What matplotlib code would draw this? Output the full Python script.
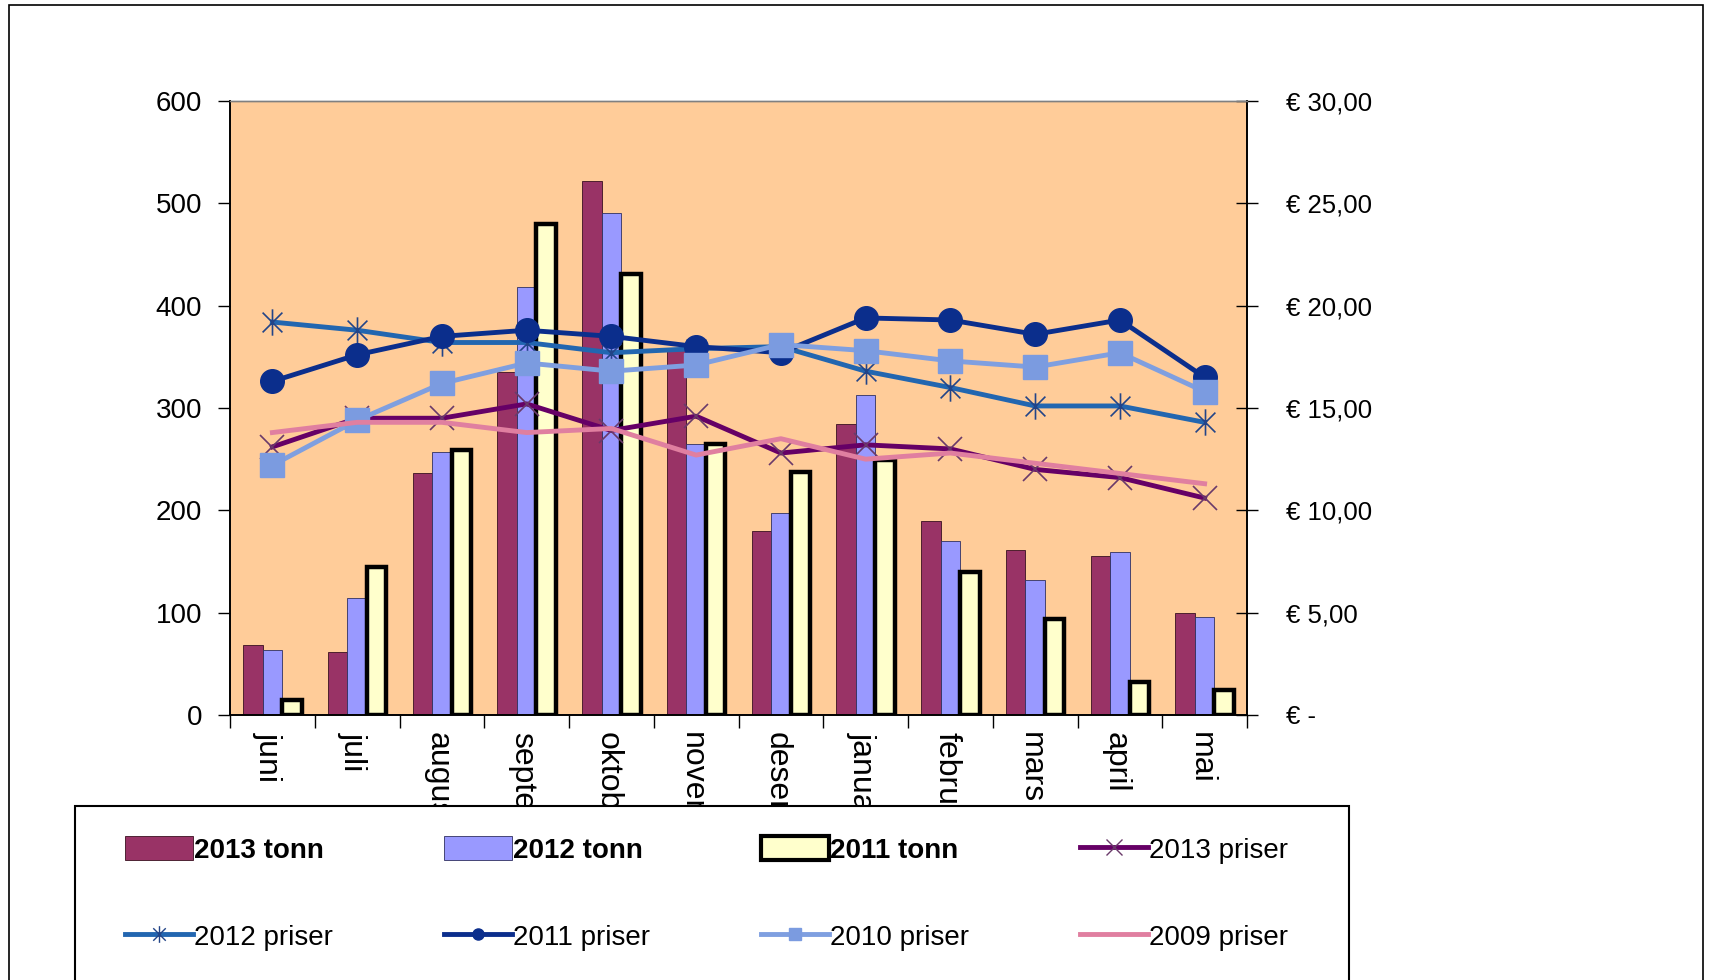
import numpy as np
import matplotlib
matplotlib.use("Agg")
import matplotlib.pyplot as plt
from matplotlib.patches import Patch, Rectangle
from matplotlib.lines import Line2D
from matplotlib.path import Path
from matplotlib.transforms import Bbox, TransformedBbox

plt.rcParams['font.family'] = 'Liberation Sans'

# data
months = ["juni", "juli", "august", "september", "oktober", "november",
          "desember", "januar", "februar", "mars", "april", "mai"]
tonn_2013 = [68, 62, 236, 335, 522, 357, 180, 284, 190, 161, 155, 100]
tonn_2012 = [64, 114, 257, 418, 491, 265, 197, 313, 170, 132, 159, 96]
tonn_2011 = [15, 145, 259, 480, 431, 265, 237, 249, 140, 94, 32, 24]

pris_2013 = [13.1, 14.5, 14.5, 15.2, 13.9, 14.6, 12.8, 13.2, 13.0, 12.0, 11.6, 10.6]
pris_2012 = [19.2, 18.8, 18.2, 18.2, 17.7, 17.9, 18.0, 16.8, 16.0, 15.1, 15.1, 14.3]
pris_2011 = [16.3, 17.6, 18.5, 18.8, 18.5, 18.0, 17.7, 19.4, 19.3, 18.6, 19.3, 16.5]
pris_2010 = [12.2, 14.4, 16.2, 17.2, 16.8, 17.1, 18.1, 17.8, 17.3, 17.0, 17.7, 15.8]
pris_2009 = [13.8, 14.3, 14.3, 13.8, 14.0, 12.7, 13.5, 12.5, 12.8, 12.3, 11.8, 11.3]

left_ticks = [0, 100, 200, 300, 400, 500, 600]
right_ticks = [0, 5, 10, 15, 20, 25, 30]
right_labels = ["€ -", "€ 5,00", "€ 10,00", "€ 15,00", "€ 20,00", "€ 25,00", "€ 30,00"]

W, H = 1717, 980
fig = plt.figure(figsize=(W / 100, H / 100), dpi=100)
fig.patch.set_facecolor('white')

ax = fig.add_axes([230 / W, 1 - 715 / H, (1247 - 230) / W, (715 - 101) / H])
ax.set_facecolor('#FFCC99')
x = np.arange(len(months))
bw = 0.23

ax.bar(x - bw, tonn_2013, bw, color='#993366', edgecolor='#3a1020', lw=0.6)
ax.bar(x, tonn_2012, bw, color='#9999FF', edgecolor='#303060', lw=0.6)
ax.bar(x + bw, tonn_2011, bw, color='#FFFFCC', edgecolor='black', lw=3.2)

ax.set_xlim(-0.5, len(months) - 0.5)
ax.set_ylim(0, 600)
ax.set_yticks(left_ticks)
ax.tick_params(axis='y', direction='out', length=9, width=1, pad=11, labelsize=20)
ax.set_xticks(np.arange(-0.5, len(months), 1))
ax.set_xticklabels([])
ax.tick_params(axis='x', which='major', direction='out', length=9, width=1)
ax.set_xticks(x - 0.05, minor=True)
ax.set_xticklabels(months, minor=True, rotation=270, fontsize=23)
ax.tick_params(axis='x', which='minor', length=0, pad=12)

# month names are cut off by the legend box, as in the original
legend_top = 1 - 806 / H
clip = TransformedBbox(Bbox([[0, legend_top], [1, 1]]), fig.transFigure)
for lbl in ax.get_xticklabels(minor=True):
    lbl.set_horizontalalignment('center')
    lbl.set_verticalalignment('top')
    lbl.set_clip_box(clip)
    lbl.set_clip_on(True)

ax2 = ax.twinx()
ax2.set_ylim(0, 30)
ax2.set_yticks(right_ticks)
ax2.set_yticklabels(right_labels)
ax2.tick_params(axis='y', direction='inout', length=16, width=1, pad=20, labelsize=18.5)

asterisk = Path([(0, -1), (0, 1), (-0.75, -0.75), (0.75, 0.75), (-0.75, 0.75), (0.75, -0.75)],
                [Path.MOVETO, Path.LINETO] * 3)

ax2.plot(x, pris_2013, color='#660066', lw=3.5, marker='x', ms=17, mew=1.2, mec='#6a3a6a')
ax2.plot(x, pris_2012, color='#2266B0', lw=3.5, marker=asterisk, ms=19, mew=1.2, mec='#224488')
ax2.plot(x, pris_2011, color='#0B2E8C', lw=3.5, marker='o', ms=17, mfc='#0B2E8C', mec='#0B2E8C')
ax2.plot(x, pris_2010, color='#7F9FE0', lw=3.5, marker='s', ms=17, mfc='#7B9BE0', mec='#7B9BE0')
ax2.plot(x, pris_2009, color='#E07FA0', lw=3.5)

for a in (ax, ax2):
    a.spines['top'].set_color('#808080')
    a.spines['top'].set_linewidth(1)
    for s in ('left', 'right', 'bottom'):
        a.spines[s].set_color('black')
        a.spines[s].set_linewidth(1.2)

# legend box and outer frame
fig.add_artist(Rectangle((75 / W, -0.1), (1349 - 75) / W, legend_top + 0.1,
                         transform=fig.transFigure, fc='white', ec='black', lw=1.5, zorder=2))
fig.add_artist(Rectangle((9 / W, -0.1), (1703 - 9) / W, 1 - 5.5 / H + 0.1,
                         transform=fig.transFigure, fill=False, ec='black', lw=1.2, zorder=3))

handles = [
    Patch(facecolor='#993366', edgecolor='#3a1020', lw=0.6),
    Patch(facecolor='#9999FF', edgecolor='#303060', lw=0.6),
    Patch(facecolor='#FFFFCC', edgecolor='black', lw=3),
    Line2D([], [], color='#660066', lw=3.5, marker='x', ms=11, mew=1, mec='#6a3a6a'),
    Line2D([], [], color='#2266B0', lw=3.5, marker=asterisk, ms=12, mew=1, mec='#224488'),
    Line2D([], [], color='#0B2E8C', lw=3.5, marker='o', ms=8),
    Line2D([], [], color='#7F9FE0', lw=3.5, marker='s', ms=8, mfc='#7B9BE0', mec='#7B9BE0'),
    Line2D([], [], color='#E07FA0', lw=3.5),
]
labels = ["2013 tonn", "2012 tonn", "2011 tonn", "2013 priser",
          "2012 priser", "2011 priser", "2010 priser", "2009 priser"]
col_x = [125, 444, 761, 1080]
row_y = [850, 937]
for i, (h, lab) in enumerate(zip(handles, labels)):
    r, c = divmod(i, 4)
    bold = i < 3
    fig.legend(handles=[h], labels=[lab], loc='center left',
               bbox_to_anchor=(col_x[c] / W, 1 - row_y[r] / H),
               frameon=False, borderpad=0, borderaxespad=0,
               handlelength=2.45, handleheight=0.9, handletextpad=0.05,
               prop={'size': 20, 'weight': 'bold' if bold else 'normal'})

fig.savefig('out.png', dpi=100)
